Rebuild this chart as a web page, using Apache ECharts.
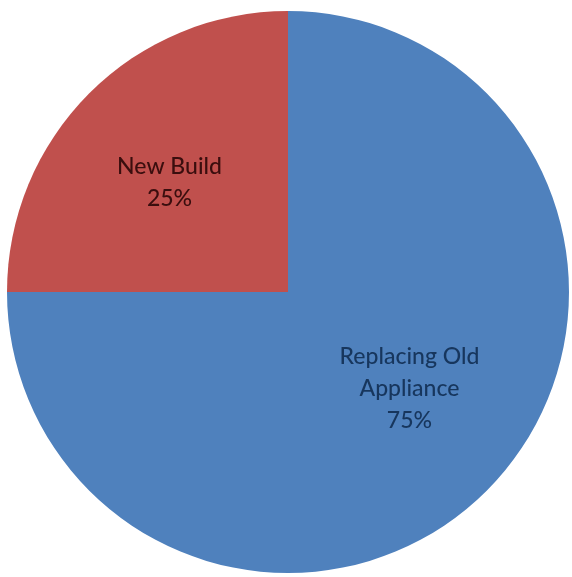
<!DOCTYPE html>
<html>
<head>
<meta charset="utf-8">
<script src="https://cdn.jsdelivr.net/npm/echarts@6/dist/echarts.min.js"></script>
<style>
html,body{margin:0;padding:0;background:#fff;}
#chart{width:572px;height:577px;}
</style>
</head>
<body>
<div id="chart"></div>
<script>
const categories = ["Replacing Old Appliance", "New Build"];
const values = [75, 25];
const labelText = ["Replacing Old\nAppliance", "New Build"];
const colors = ["#4F81BD", "#C0504D"];
const labelColors = ["#17365D", "#3A0E0E"];
const labelOffsets = [[20, -5], [-17, -8]];

const chart = echarts.init(document.getElementById('chart'), null, {renderer: 'canvas'});
chart.setOption({
  animation: false,
  series: [{
    type: 'pie',
    center: [288, 292],
    radius: 281,
    startAngle: 90,
    clockwise: true,
    avoidLabelOverlap: false,
    label: {
      show: true,
      position: 'inside',
      fontFamily: 'Lato',
      fontSize: 23,
      fontWeight: 500,
      lineHeight: 32,
      align: 'center'
    },
    labelLine: {show: false},
    itemStyle: {borderWidth: 0},
    emphasis: {disabled: true},
    data: categories.map((c, i) => ({
      name: c,
      value: values[i],
      itemStyle: {color: colors[i]},
      label: {
        color: labelColors[i],
        offset: labelOffsets[i],
        formatter: labelText[i] + '\n' + values[i] + '%'
      }
    }))
  }]
});
</script>
</body>
</html>
